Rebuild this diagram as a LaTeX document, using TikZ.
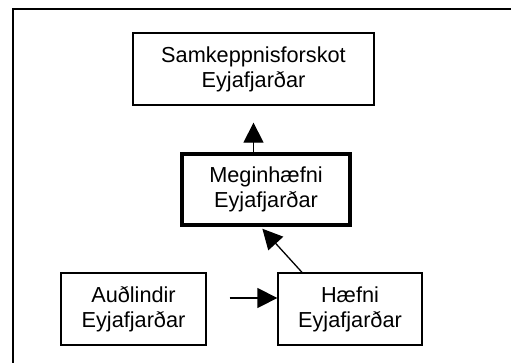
\documentclass[tikz,border=0pt]{standalone}
\usepackage{fontspec}
\setmainfont{Liberation Sans}
\usetikzlibrary{arrows.meta}
\begin{document}
\begin{tikzpicture}[x=1pt,y=-1pt,
  box/.style={draw=black, line width=1.3pt, fill=white, align=center,
    inner sep=0pt, font=\fontsize{21.7}{25}\selectfont},
  arr/.style={draw=black, line width=1.3pt,
    -{Triangle[length=20pt,width=20pt]}}]
  \clip (0,0) rectangle (511,362);
  \fill[white] (0,0) rectangle (511,362);
  % outer frame, running past the right and lower edges
  \draw[line width=1.5pt] (13,380) -- (13,9) -- (530,9);

  \node[box, minimum width=241pt, minimum height=72pt] (top) at (253.5,69)
    {Samkeppnisforskot\\Eyjafjarðar};
  \node[box, line width=4.5pt, minimum width=168pt, minimum height=71pt] (meg) at (266,189.5)
    {Meginhæfni\\Eyjafjarðar};
  \node[box, minimum width=145pt, minimum height=72pt] (aud) at (133.5,309)
    {Auðlindir\\Eyjafjarðar};
  \node[box, minimum width=144pt, minimum height=72pt] (hae) at (350,309)
    {Hæfni\\Eyjafjarðar};

  \draw[arr, shorten >=17pt] (top.south |- meg.north) -- (top.south);
  \draw[arr, shorten >=2pt] ([xshift=-48pt]hae.north) -- ([xshift=-5pt]meg.south);
  \draw[arr] ([xshift=23pt,yshift=11pt]aud.east) -- ([yshift=11pt]hae.west);
\end{tikzpicture}
\end{document}
